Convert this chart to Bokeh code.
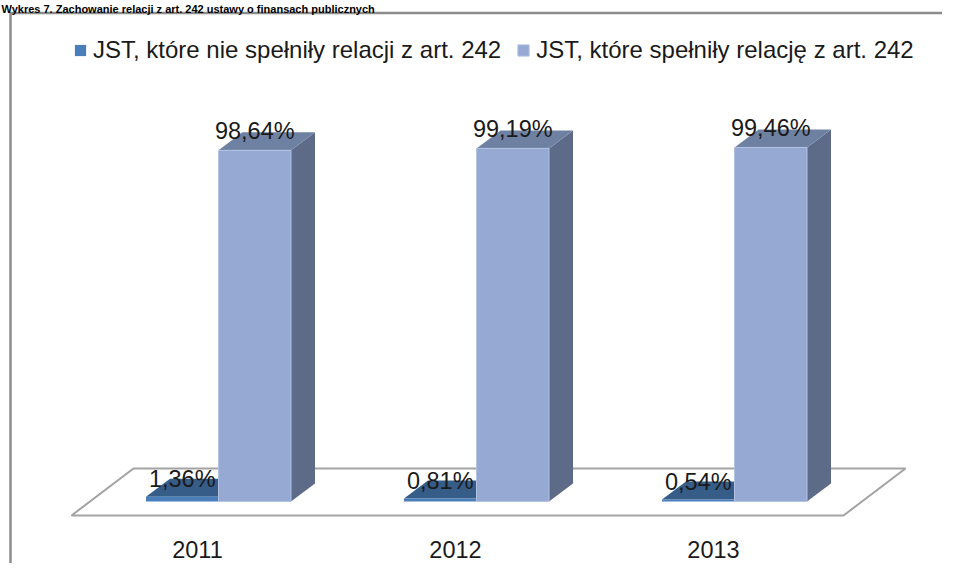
from bokeh.plotting import figure
from bokeh.models import Range1d, Legend, LegendItem
from bokeh.core.properties import value
from bokeh.embed import file_html
from bokeh.resources import INLINE

# ---- data ----
title_text = "Wykres 7. Zachowanie relacji z art. 242 ustawy o finansach publicznych"
years = ["2011", "2012", "2013"]
not_met = [1.36, 0.81, 0.54]
met = [98.64, 99.19, 99.46]
series_names = ["JST, które nie spełniły relacji z art. 242",
                "JST, które spełniły relację z art. 242"]

# ---- layout constants ----
W, H = 942, 563
S = 258.0    # px per category step
K = 3.56     # px per percent point
X0, Y0 = 218.0, 62.0   # canvas px of first category / of 0 % (from bottom)

FONT = "Liberation Sans"
DARK_FRONT, DARK_TOP, DARK_SIDE = "#4A7EBB", "#365C88", "#2E4F76"
LIGHT_FRONT, LIGHT_TOP, LIGHT_SIDE = "#95A9D3", "#6F81A2", "#5D6B89"

p = figure(width=W, height=H, output_backend="svg", toolbar_location=None,
           x_range=Range1d(-X0 / S, (W - X0) / S),
           y_range=Range1d(-Y0 / K, (H - Y0) / K),
           x_axis_location=None, y_axis_location=None,
           min_border=0, tools="")
p.grid.visible = False
p.outline_line_color = None
p.background_fill_color = "white"
p.border_fill_color = "white"


def cx(px):
    return (px - X0) / S


def cy(py):
    return (H - Y0 - py) / K


idx = list(range(len(years)))
BW = 72.5 / S
DX, DY = 24.0 / S, 18.0 / K

# floor
FL, FR = idx[0] - 147.0 / S, idx[-1] + 109.0 / S
FF, FB, FDX = -14.0 / K, 33.0 / K, 62.0 / S
p.patch(x=[FL, FR, FR + FDX, FL + FDX], y=[FF, FF, FB, FB],
        fill_color="white", line_color="#A3A3A3", line_width=2)

# dark series
p.patches(xs=[[i, i + DX, i + DX, i] for i in idx],
          ys=[[0, DY, v + DY, v] for v in not_met],
          fill_color=DARK_SIDE, line_color=None)
p.patches(xs=[[i - BW, i, i + DX, i - BW + DX] for i in idx],
          ys=[[v, v, v + DY, v + DY] for v in not_met],
          fill_color=DARK_TOP, line_color=None)
dark_front = p.quad(left=[i - BW for i in idx], right=idx, bottom=0, top=not_met,
                    fill_color=DARK_FRONT, line_color=None)

# light series
p.patches(xs=[[i + BW, i + BW + DX, i + BW + DX, i + BW] for i in idx],
          ys=[[0, DY, v + DY, v] for v in met],
          fill_color=LIGHT_SIDE, line_color=None)
p.patches(xs=[[i, i + BW, i + BW + DX, i + DX] for i in idx],
          ys=[[v, v, v + DY, v + DY] for v in met],
          fill_color=LIGHT_TOP, line_color=None)
light_front = p.quad(left=idx, right=[i + BW for i in idx], bottom=0, top=met,
                     fill_color=LIGHT_FRONT, line_color="#B3C2E2", line_width=1)


def fmt(v):
    return ("%.2f" % v).replace(".", ",") + "%"


p.text(x=[i - BW / 2 for i in idx], y=[v + DY for v in not_met],
       text=[fmt(v) for v in not_met], text_align="center",
       text_baseline="alphabetic", text_font=value(FONT),
       text_font_size="23.5px", text_color="#1A1A1A", y_offset=0)
p.text(x=[i + BW / 2 for i in idx], y=[v + DY for v in met],
       text=[fmt(v) for v in met], text_align="center",
       text_baseline="alphabetic", text_font=value(FONT),
       text_font_size="23.5px", text_color="#1A1A1A", y_offset=-1)

# category labels
p.text(x=idx, y=[0] * len(idx), text=years, text_align="center",
       text_baseline="middle", text_font=value(FONT), text_font_size="23.5px",
       text_color="#1A1A1A", x_offset=-21, y_offset=48)

# chart border (left & top visible)
p.line(x=[cx(10), cx(10), cx(W)], y=[cy(H), cy(12.5), cy(12.5)],
       line_color="#8C8C8C", line_width=2.5)

# document title (shrunk so it fits above the chart border)
p.text(x=[cx(1)], y=[cy(8.5)], text=[title_text], text_align="left",
       text_baseline="alphabetic", text_font=value(FONT),
       text_font_style="bold", text_font_size="11px", text_color="#000000")

legend = Legend(items=[LegendItem(label=series_names[0], renderers=[dark_front]),
                       LegendItem(label=series_names[1], renderers=[light_front])],
                orientation="horizontal", location=(73, 499),
                border_line_color=None, background_fill_alpha=0,
                padding=0, margin=0, spacing=15, label_standoff=6,
                glyph_width=14, glyph_height=14,
                label_text_font=FONT, label_text_font_size="24px",
                label_text_color="#1A1A1A")
p.add_layout(legend, "center")

open("out.html", "w").write(file_html(p, INLINE))
